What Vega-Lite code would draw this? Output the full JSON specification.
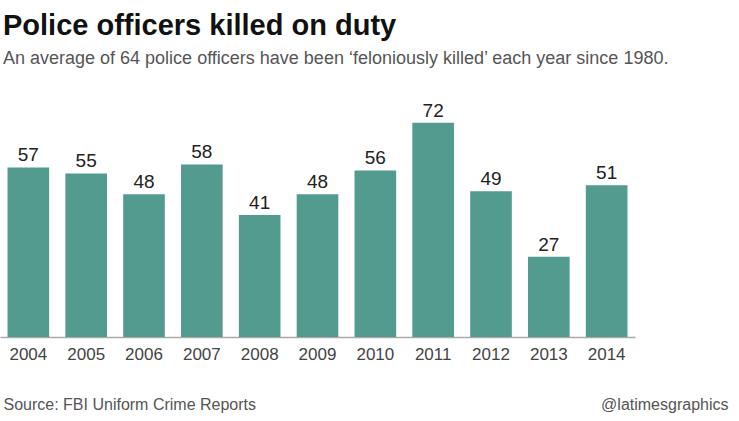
{
  "$schema": "https://vega.github.io/schema/vega-lite/v6.json",
  "autosize": "none",
  "width": 635,
  "height": 238,
  "padding": {"left": 0, "top": 99, "right": 104, "bottom": 84},
  "background": "white",
  "config": {"view": {"stroke": null}, "font": "Liberation Sans"},
  "title": {
    "text": "Police officers killed on duty",
    "subtitle": "An average of 64 police officers have been \u2018feloniously killed\u2019 each year since 1980.",
    "anchor": "start",
    "frame": "group",
    "dx": 3,
    "offset": 31,
    "font": "Liberation Sans",
    "fontSize": 29,
    "fontWeight": "bold",
    "color": "#111111",
    "subtitleFont": "Liberation Sans",
    "subtitleFontSize": 18,
    "subtitleColor": "#555555",
    "subtitlePadding": 9
  },
  "data": {
    "values": [
      {"year": "2004", "killed": 57},
      {"year": "2005", "killed": 55},
      {"year": "2006", "killed": 48},
      {"year": "2007", "killed": 58},
      {"year": "2008", "killed": 41},
      {"year": "2009", "killed": 48},
      {"year": "2010", "killed": 56},
      {"year": "2011", "killed": 72},
      {"year": "2012", "killed": 49},
      {"year": "2013", "killed": 27},
      {"year": "2014", "killed": 51}
    ]
  },
  "encoding": {
    "x": {
      "field": "year",
      "type": "ordinal",
      "scale": {"paddingInner": 0.28, "paddingOuter": 0.13},
      "axis": {
        "title": "Source: FBI Uniform Crime Reports",
        "titleFont": "Liberation Sans",
        "titleFontSize": 16,
        "titleFontWeight": "normal",
        "titleColor": "#555555",
        "titleAnchor": "start",
        "titleAlign": "left",
        "titleBaseline": "alphabetic",
        "titleX": 3,
        "titleY": 72,
        "labelAngle": 0,
        "labelFontSize": 17,
        "labelColor": "#444444",
        "labelPadding": 9,
        "ticks": false,
        "domainColor": "#aaaaaa",
        "domainWidth": 1.5
      }
    },
    "y": {
      "field": "killed",
      "type": "quantitative",
      "scale": {"domain": [0, 80]},
      "axis": {
        "orient": "right",
        "title": "@latimesgraphics",
        "titleFont": "Liberation Sans",
        "titleFontSize": 16,
        "titleFontWeight": "normal",
        "titleColor": "#555555",
        "titleAngle": 0,
        "titleAlign": "right",
        "titleBaseline": "alphabetic",
        "titleX": 93,
        "titleY": 310,
        "labels": false,
        "ticks": false,
        "domain": false,
        "grid": false
      }
    }
  },
  "layer": [
    {"mark": {"type": "bar", "color": "#539a8f"}},
    {
      "mark": {"type": "text", "baseline": "bottom", "dy": -2, "fontSize": 19, "color": "#222222"},
      "encoding": {"text": {"field": "killed", "type": "quantitative"}}
    }
  ]
}
